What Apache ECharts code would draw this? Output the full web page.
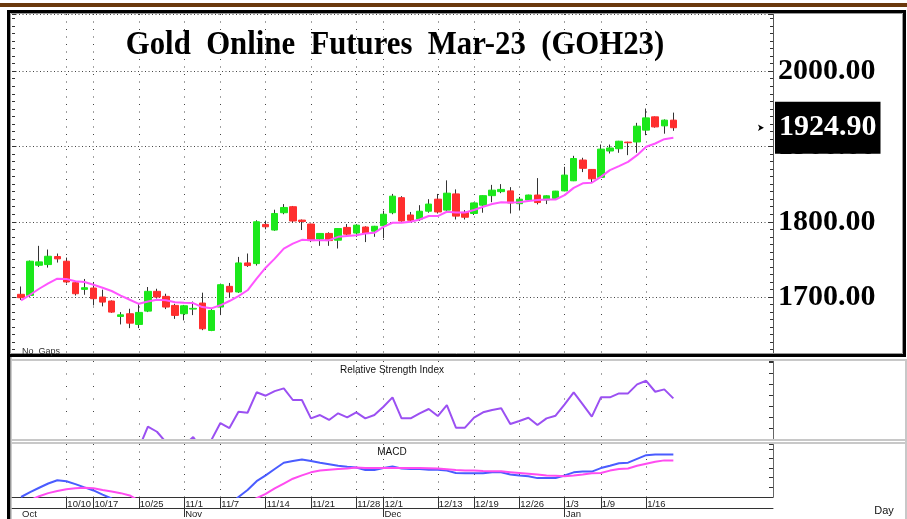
<!DOCTYPE html>
<html>
<head>
<meta charset="utf-8">
<script src="https://cdn.jsdelivr.net/npm/echarts@6/dist/echarts.min.js"></script>
<style>
  html, body { margin: 0; padding: 0; background: #fff; }
  #chart { width: 907px; height: 519px; }
</style>
</head>
<body>
<div id="chart"></div>
<script>
// daily candles
const opens = [1703.6, 1702.2, 1742.2, 1743.1, 1753.8, 1747.6, 1719, 1710.2, 1712, 1700,
  1694.7, 1674.2, 1677.8, 1663.6, 1681.3, 1707.6, 1700.9, 1688.9, 1677.8, 1684,
  1692, 1655.6, 1686.7, 1714.2, 1706.7, 1745.3, 1744.4, 1796.5, 1789, 1812,
  1820, 1802.2, 1797, 1777, 1784.5, 1775.5, 1792.5, 1785, 1793, 1787.5,
  1794.7, 1812, 1832, 1809, 1803.5, 1814, 1830, 1815.5, 1837, 1812.5,
  1811, 1822, 1834.7, 1840, 1841, 1824, 1828.9, 1835.5, 1829, 1831,
  1841, 1854.4, 1882, 1869.5, 1859, 1894, 1897, 1905.8, 1906, 1921.7,
  1939.4, 1927.4, 1935];
const closes = [1699.1, 1747.6, 1746.7, 1754.2, 1750.7, 1720, 1704.4, 1712.4, 1697.8, 1693.3,
  1680, 1676.4, 1665.3, 1679.6, 1707.6, 1700, 1686.7, 1675.6, 1688.4, 1685,
  1657.8, 1682.2, 1716.4, 1706.7, 1745.3, 1741.8, 1800, 1793.3, 1811, 1819,
  1801, 1800.4, 1775, 1784.5, 1775, 1791, 1783.5, 1795.5, 1785, 1794,
  1810, 1834, 1801, 1802, 1814, 1823.5, 1813, 1838, 1807.5, 1806,
  1825, 1834.7, 1842, 1843, 1825, 1830, 1835.5, 1825.5, 1834.5, 1840.7,
  1862, 1884, 1871, 1857, 1896.5, 1898, 1907, 1905, 1927, 1938,
  1926, 1935, 1924.9];
const highs = [1714, 1748.5, 1768, 1763.1, 1757.8, 1752.4, 1720, 1724, 1720, 1709.8,
  1695.5, 1680, 1684.4, 1691, 1713.3, 1711, 1704.4, 1691, 1689.5, 1694,
  1705.8, 1684, 1717.8, 1718.7, 1753.3, 1757.8, 1802, 1801.5, 1816, 1823.5,
  1821, 1803, 1797.5, 1785, 1786, 1791.5, 1797, 1796, 1794, 1794.5,
  1814.7, 1837, 1834, 1813, 1822, 1830, 1837, 1855, 1843, 1815.5,
  1825.5, 1835, 1849, 1850, 1846, 1833, 1836, 1858, 1835, 1841,
  1873, 1887.6, 1885, 1870, 1902.6, 1902.6, 1907.5, 1906.3, 1931.4, 1950.4,
  1939.8, 1936, 1945];
const lows = [1696, 1700, 1740, 1739.1, 1745.8, 1718, 1702, 1703, 1688.9, 1687.6,
  1679, 1663.6, 1658.7, 1658.7, 1680, 1698, 1684, 1671, 1669, 1676,
  1656, 1654.7, 1676, 1700, 1705.5, 1740, 1741.8, 1790, 1788, 1810,
  1799, 1789, 1773, 1768, 1768, 1764.5, 1782, 1780, 1773, 1780,
  1778, 1810, 1800, 1800, 1801, 1812, 1811, 1812, 1803, 1803,
  1809, 1812, 1826, 1838, 1811, 1815, 1827, 1823, 1823.5, 1829,
  1840.5, 1854, 1866, 1852.6, 1858.8, 1890.7, 1891.6, 1888.5, 1891.6, 1915,
  1925, 1917, 1920.8];
const movingAvg = [1695.6, 1703, 1711, 1718, 1724.4, 1724, 1721, 1720, 1716.4, 1712.4,
  1708, 1702, 1696.4, 1691, 1694, 1696.4, 1695.6, 1693, 1692.4, 1692,
  1686.7, 1685, 1689, 1694.7, 1701.3, 1709, 1724.4, 1739, 1751, 1764.4,
  1771, 1776, 1775.6, 1775.6, 1775.6, 1780, 1781, 1782, 1784.4, 1785.3,
  1793.3, 1798.7, 1798.7, 1800, 1803, 1807.6, 1807.6, 1813.3, 1812.4, 1812.4,
  1815.6, 1820, 1823.6, 1825.8, 1825.5, 1825.8, 1827.7, 1829, 1829.7, 1829.6,
  1835.4, 1845, 1851, 1851.8, 1859.7, 1868.6, 1874, 1879.6, 1888.5, 1899.6,
  1904, 1909.7, 1911.5];
const rsi = [null, null, null, null, null, null, null, null, null, null,
  null, null, null, 11.6, 31.2, 26.6, 17, 12, 14, 21.8,
  10, 19, 34.5, 30, 44.8, 43.9, 62.5, 59.4, 63.6, 66.1,
  55.5, 55.5, 38.8, 41.8, 37.3, 43.4, 39.7, 44.3, 38.8, 41.8,
  49.4, 57.9, 38.8, 38.8, 43.4, 47.3, 40.9, 50.9, 30.3, 30.3,
  39.4, 44.3, 46.4, 47.9, 33.6, 36.4, 39.4, 32.7, 38.8, 41.2,
  51.5, 62.5, 51.5, 40.3, 57.9, 57.9, 61.5, 61.5, 69.7, 73,
  63, 65.2, 57];
const macd = [-10, -7.5, -5.2, -3, -1.3, -1.8, -3.3, -5, -6.6, -8.8,
  -10.8, -13, -15, -17, -18, -18, -18, -19, -19, -19,
  -20, -19, -17, -14, -10, -6.4, -1.8, 1.2, 4.5, 7.8,
  8.7, 9.5, 8.7, 7.8, 7, 6.2, 5.7, 5.3, 4, 4,
  5, 5.8, 4.8, 4.5, 4.5, 4.2, 4.2, 3.7, 2.5, 2.3,
  2.3, 2.3, 2.8, 2.8, 1.7, 1.2, 0.8, -0.2, -0.2, -0.1,
  1.2, 2.8, 3.2, 3.2, 5, 6.2, 7.5, 7.8, 9.8, 11.7,
  12, 12, 12];
const signal = [-13, -11.6, -9.6, -8, -6.9, -6, -5.5, -5.2, -5.5, -6.4,
  -7.2, -8, -9.2, -11.9, -13, -14, -15, -15.5, -16, -16.5,
  -17, -17, -16.5, -15.5, -14, -12.5, -10.6, -8.4, -5.5, -3,
  -0.5, 1.2, 2.8, 3.7, 4.2, 4.5, 4.8, 5.3, 5, 5,
  5, 5, 5, 5, 5, 4.9, 4.8, 4.4, 4, 3.8,
  3.7, 3.5, 3.4, 3.3, 2.9, 2.5, 2.1, 1.7, 1.2, 1,
  0.8, 1.2, 1.7, 2.3, 2.5, 3.7, 4.5, 4.8, 6.2, 7.3,
  8.3, 9, 9];

// date labels under the chart (bar index where each one sits)
const tickDates = ['10/10', '10/17', '10/25', '11/1', '11/7', '11/14', '11/21', '11/28',
  '12/1', '12/13', '12/19', '12/26', '1/3', '1/9', '1/16'];
const tickIdx = [5, 8, 13, 18, 22, 27, 32, 37, 40, 46, 50, 55, 60, 64, 69];
const months = ['Oct', 'Nov', 'Dec', 'Jan'];
const monthIdx = [0, 18, 40, 60];

// one empty slot before the first bar and room after the last one
const SLOTS = 85;
const cats = new Array(SLOTS).fill('');
tickIdx.forEach((b, k) => { cats[b + 1] = tickDates[k]; });
const monthCats = new Array(SLOTS).fill('');
monthIdx.forEach((b, k) => { monthCats[b + 1] = months[k]; });

const wickRows = opens.map((o, i) => [i + 1, o, closes[i], lows[i], highs[i]]);
const bodyRows = opens.map((o, i) => [i + 1, o, closes[i], Math.min(o, closes[i]), Math.max(o, closes[i])]);
const pts = arr => arr.map((v, i) => [i + 1, v]);
const lastClose = closes[closes.length - 1];

const GREEN = '#1be81b';
const RED = '#ff2e2e';
const dotColor = '#444';
const isTick = (i, v) => v !== '';

const baseX = {
  type: 'category',
  data: cats,
  boundaryGap: false,
  axisLine: {show: false, onZero: false},
  axisTick: {show: false},
  axisLabel: {show: false}
};

const chart = echarts.init(document.getElementById('chart'));

chart.setOption({
  animation: false,
  backgroundColor: '#fff',
  grid: [
    {left: 12, right: 134, top: 14, height: 341},
    {left: 12, right: 134, top: 361, height: 78},
    {left: 12, right: 134, top: 444, height: 55}
  ],
  xAxis: [
    Object.assign({}, baseX, {
      gridIndex: 0,
      splitLine: {show: true, interval: isTick, lineStyle: {color: dotColor, type: [1, 6.5]}}
    }),
    Object.assign({}, baseX, {
      gridIndex: 1,
      splitLine: {show: true, interval: isTick, lineStyle: {color: dotColor, type: [1, 11.5]}}
    }),
    Object.assign({}, baseX, {
      gridIndex: 2,
      axisLine: {show: true, onZero: false, lineStyle: {color: '#333'}},
      axisTick: {show: true, interval: isTick, length: 11, lineStyle: {color: '#333'}},
      axisLabel: {
        show: true, interval: 0, align: 'left', margin: 2, padding: [0, 0, 0, 1],
        fontSize: 9.5, color: '#222', fontFamily: 'Liberation Sans'
      },
      splitLine: {show: true, interval: isTick, lineStyle: {color: dotColor, type: [1, 6.5]}}
    }),
    {
      type: 'category', gridIndex: 2, data: monthCats, boundaryGap: false,
      position: 'bottom', offset: 11,
      axisLine: {show: true, onZero: false, lineStyle: {color: '#333'}},
      axisTick: {show: true, interval: (i, v) => v !== '' && i > 1, length: 9, lineStyle: {color: '#333'}},
      axisLabel: {
        show: true, interval: 0, align: 'left', margin: 1, padding: [0, 0, 0, 1],
        fontSize: 9.5, color: '#222', fontFamily: 'Liberation Sans'
      },
      splitLine: {show: false}
    }
  ],
  yAxis: [
    {
      gridIndex: 0, position: 'right', min: 1623, max: 2076,
      axisLine: {show: true, lineStyle: {color: '#555'}},
      axisTick: {show: true, inside: true, length: 5, lineStyle: {color: '#333'}},
      minorTick: {show: true, splitNumber: 10, length: 3, lineStyle: {color: '#333'}},
      axisLabel: {
        margin: 5, fontSize: 30, fontWeight: 'bold', color: '#000',
        fontFamily: 'Liberation Serif', showMinLabel: false, showMaxLabel: false,
        formatter: v => v.toFixed(2)
      },
      splitLine: {show: true, lineStyle: {color: dotColor, type: [1, 2.5]}}
    },
    {
      gridIndex: 0, position: 'left', min: 1623, max: 2076,
      axisLine: {show: false},
      axisTick: {show: true, inside: true, length: 4, lineStyle: {color: '#333'}},
      minorTick: {show: true, splitNumber: 10, length: 3, lineStyle: {color: '#333'}},
      axisLabel: {show: false},
      splitLine: {show: false}
    },
    {
      gridIndex: 1, position: 'right', min: 20, max: 91,
      axisLine: {show: true, lineStyle: {color: '#666'}},
      axisTick: {show: true, inside: true, length: 4, lineStyle: {color: '#333'}},
      axisLabel: {show: false},
      splitLine: {show: false}
    },
    {
      gridIndex: 2, position: 'right', min: -10, max: 17.5,
      axisLine: {show: true, lineStyle: {color: '#666'}},
      axisTick: {show: true, inside: true, length: 4, lineStyle: {color: '#333'}},
      axisLabel: {show: false},
      splitLine: {show: false}
    }
  ],
  series: [
    {
      name: 'wick', type: 'candlestick', xAxisIndex: 0, yAxisIndex: 0,
      data: wickRows, encode: {x: 0, y: [1, 2, 3, 4]}, barWidth: 1,
      itemStyle: {color: '#333', color0: '#333', borderColor: '#333', borderColor0: '#333', borderWidth: 1}
    },
    {
      name: 'GOH23', type: 'candlestick', xAxisIndex: 0, yAxisIndex: 0,
      data: bodyRows, encode: {x: 0, y: [1, 2, 3, 4]}, barWidth: 7,
      itemStyle: {color: GREEN, color0: RED, borderColor: GREEN, borderColor0: RED, borderWidth: 1},
      markLine: {
        silent: true, symbol: 'none',
        lineStyle: {color: 'rgba(0,0,0,0)', width: 1},
        label: {
          show: true, position: 'end', distance: 2,
          formatter: p => Number(p.value).toFixed(2),
          backgroundColor: '#000', color: '#fff',
          fontSize: 30, fontWeight: 'bold', fontFamily: 'Liberation Serif',
          padding: [9, 4, 13, 4]
        },
        data: [{yAxis: lastClose}]
      },
      markPoint: {
        silent: true, symbol: 'arrow', symbolSize: [5, 6], symbolRotate: -90,
        itemStyle: {color: '#000'}, label: {show: false},
        data: [{coord: [83, lastClose]}]
      }
    },
    {
      name: 'MA', type: 'line', xAxisIndex: 0, yAxisIndex: 0,
      data: pts(movingAvg), symbol: 'none',
      lineStyle: {color: '#ff55ff', width: 2}
    },
    {
      name: 'RSI', type: 'line', xAxisIndex: 1, yAxisIndex: 2,
      data: pts(rsi), symbol: 'none', connectNulls: false,
      lineStyle: {color: '#9b50f2', width: 2}
    },
    {
      name: 'MACD', type: 'line', xAxisIndex: 2, yAxisIndex: 3,
      data: pts(macd), symbol: 'none',
      lineStyle: {color: '#4a5cff', width: 2}
    },
    {
      name: 'Signal', type: 'line', xAxisIndex: 2, yAxisIndex: 3,
      data: pts(signal), symbol: 'none',
      lineStyle: {color: '#ff4cf0', width: 2}
    }
  ],
  graphic: [
    // brown strip and black frame
    {type: 'rect', z: 50, shape: {x: 0, y: 3, width: 907, height: 4}, style: {fill: '#6b390c'}},
    {type: 'rect', z: 50, shape: {x: 8.5, y: 11.5, width: 896, height: 344}, style: {fill: 'none', stroke: '#000', lineWidth: 3}},
    {type: 'rect', z: 50, shape: {x: 10.5, y: 13.5, width: 892, height: 340}, style: {fill: 'none', stroke: '#999', lineWidth: 1}},
    {type: 'rect', z: 50, shape: {x: 7, y: 357, width: 3, height: 162}, style: {fill: '#000'}},
    {type: 'rect', z: 50, shape: {x: 10, y: 357, width: 1.5, height: 162}, style: {fill: '#999'}},
    // lower panel borders
    {type: 'rect', z: 50, shape: {x: 11, y: 359, width: 896, height: 2}, style: {fill: '#c8c8c8'}},
    {type: 'rect', z: 50, shape: {x: 11, y: 439, width: 896, height: 2}, style: {fill: '#c8c8c8'}},
    {type: 'rect', z: 50, shape: {x: 11, y: 442, width: 896, height: 2}, style: {fill: '#c8c8c8'}},
    {type: 'rect', z: 50, shape: {x: 905, y: 359, width: 2, height: 160}, style: {fill: '#c8c8c8'}},
    // texts
    {
      type: 'text', z: 60, x: 395, y: 45, scaleX: 0.905,
      style: {
        text: 'Gold  Online  Futures  Mar-23  (GOH23)',
        font: 'bold 34px "Liberation Serif"', fill: '#000',
        textAlign: 'center', textVerticalAlign: 'middle', align: 'center', verticalAlign: 'middle'
      }
    },
    {
      type: 'text', z: 60, x: 392, y: 370,
      style: {
        text: 'Relative Strength Index', font: '10px "Liberation Sans"', fill: '#111',
        textAlign: 'center', textVerticalAlign: 'middle', align: 'center', verticalAlign: 'middle'
      }
    },
    {
      type: 'text', z: 60, x: 392, y: 452,
      style: {
        text: 'MACD', font: '10px "Liberation Sans"', fill: '#111',
        textAlign: 'center', textVerticalAlign: 'middle', align: 'center', verticalAlign: 'middle'
      }
    },
    {
      type: 'text', z: 60, x: 22, y: 352,
      style: {
        text: 'No  Gaps', font: '9px "Liberation Sans"', fill: '#333',
        textAlign: 'left', textVerticalAlign: 'middle', align: 'left', verticalAlign: 'middle'
      }
    },
    {
      type: 'text', z: 60, x: 884, y: 511,
      style: {
        text: 'Day', font: '11px "Liberation Sans"', fill: '#111',
        textAlign: 'center', textVerticalAlign: 'middle', align: 'center', verticalAlign: 'middle'
      }
    }
  ]
});
</script>
</body>
</html>
